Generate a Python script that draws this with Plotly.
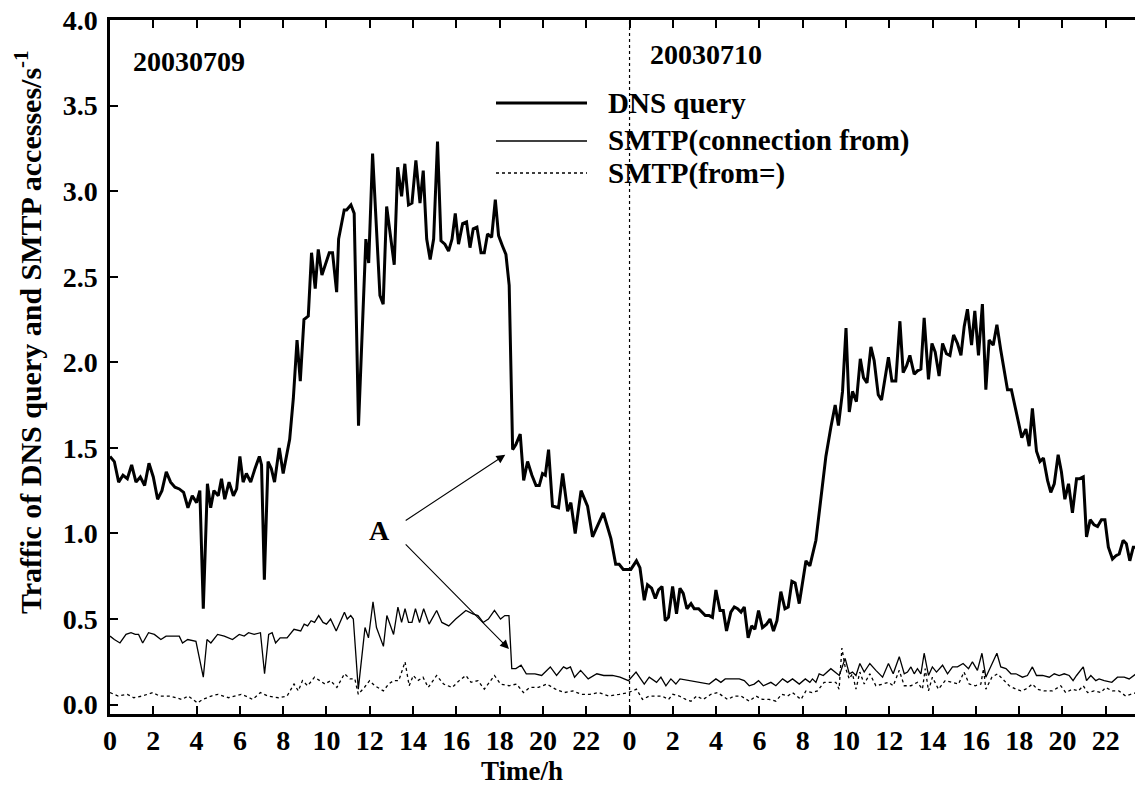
import plotly.graph_objects as go

# ---------------- data (hours since 0:00 on 2003-07-09) ----------------
dns_t = [0.0, 0.2, 0.4, 0.6, 0.8, 1.0, 1.2, 1.4, 1.6, 1.8, 2.0, 2.2, 2.4, 2.6, 2.8, 3.0, 3.2, 3.4, 3.6, 3.8,
         4.0, 4.15, 4.31, 4.5, 4.65, 4.8, 5.0, 5.15, 5.3, 5.5, 5.7, 5.85, 6.0, 6.15, 6.3, 6.5, 6.7, 6.9, 7.0,
         7.13, 7.3, 7.45, 7.6, 7.82, 8.0, 8.13, 8.3, 8.47, 8.64, 8.79, 8.96, 9.16, 9.31, 9.48, 9.62, 9.79,
         9.96, 10.13, 10.28, 10.47, 10.56, 10.82, 10.93, 11.13, 11.28, 11.48, 11.82, 11.95, 12.13, 12.47,
         12.62, 12.78, 13.13, 13.29, 13.47, 13.62, 13.79, 13.95, 14.13, 14.32, 14.47, 14.63, 14.79, 14.95,
         15.13, 15.29, 15.47, 15.64, 15.80, 15.95, 16.10, 16.29, 16.47, 16.63, 16.78, 16.95, 17.14, 17.29,
         17.44, 17.63, 17.80, 17.95, 18.13, 18.29, 18.44, 18.60, 18.75, 18.95, 19.11, 19.29, 19.49, 19.68,
         19.83, 19.98, 20.11, 20.26, 20.44, 20.72, 20.91, 21.14, 21.29, 21.49, 21.76, 22.06, 22.29, 22.52,
         22.79, 23.14, 23.36, 23.52, 23.71, 24.06, 24.32, 24.48, 24.68, 24.83, 25.02, 25.19, 25.34, 25.50,
         25.65, 25.80, 25.99, 26.17, 26.33, 26.48, 26.65, 26.84, 26.99, 27.19, 27.34, 27.50, 27.68, 27.83,
         27.99, 28.18, 28.33, 28.48, 28.68, 28.84, 28.99, 29.15, 29.30, 29.48, 29.64, 29.79, 29.96, 30.14,
         30.33, 30.49, 30.65, 30.81, 30.99, 31.18, 31.33, 31.50, 31.65, 31.84, 32.15, 32.33, 32.61, 32.78,
         32.92, 33.07, 33.30, 33.50, 33.65, 33.84, 34.0, 34.15, 34.30, 34.48, 34.66, 34.81, 34.97, 35.15,
         35.30, 35.49, 35.64, 35.80, 35.96, 36.12, 36.30, 36.49, 36.64, 36.80, 36.95, 37.15, 37.30, 37.46,
         37.61, 37.81, 37.97, 38.12, 38.30, 38.46, 38.64, 38.80, 38.97, 39.15, 39.31, 39.46, 39.61, 39.80,
         39.95, 40.12, 40.30, 40.46, 40.61, 40.80, 40.97, 41.15, 41.31, 41.46, 41.64, 41.82, 41.97, 42.12,
         42.31, 42.46, 42.61, 42.80, 42.96, 43.12, 43.31, 43.46, 43.62, 43.80, 43.95, 44.11, 44.28, 44.46,
         44.65, 44.80, 44.96, 45.11, 45.28, 45.46, 45.62, 45.80, 45.96, 46.12, 46.31, 46.47, 46.62, 46.80,
         46.95, 47.11, 47.27, 47.4]
dns_v = [1.45, 1.42, 1.30, 1.34, 1.32, 1.40, 1.30, 1.33, 1.28, 1.41, 1.33, 1.20, 1.25, 1.36, 1.30, 1.27, 1.26, 1.24, 1.15, 1.22,
         1.18, 1.25, 0.56, 1.29, 1.15, 1.25, 1.22, 1.32, 1.20, 1.30, 1.22, 1.26, 1.45, 1.30, 1.35, 1.30, 1.38, 1.45, 1.40,
         0.73, 1.42, 1.38, 1.30, 1.50, 1.35, 1.43, 1.55, 1.79, 2.13, 1.89, 2.25, 2.27, 2.64, 2.43, 2.66, 2.51,
         2.58, 2.64, 2.64, 2.41, 2.72, 2.89, 2.89, 2.92, 2.87, 1.63, 2.72, 2.58, 3.22, 2.39,
         2.34, 2.91, 2.57, 3.14, 2.97, 3.16, 2.92, 2.93, 3.18, 2.93, 3.12, 2.72, 2.60, 2.72,
         3.29, 2.71, 2.69, 2.65, 2.72, 2.87, 2.69, 2.81, 2.82, 2.67, 2.78, 2.79, 2.64, 2.64,
         2.75, 2.73, 2.95, 2.74, 2.68, 2.63, 2.45, 1.49, 1.52, 1.58, 1.31, 1.42, 1.34, 1.28,
         1.28, 1.35, 1.34, 1.49, 1.16, 1.15, 1.35, 1.13, 1.18, 1.00, 1.25, 1.16, 0.98, 1.04,
         1.12, 0.97, 0.82, 0.82, 0.79, 0.79, 0.84, 0.80, 0.61, 0.70, 0.68, 0.62, 0.67, 0.69,
         0.49, 0.51, 0.69, 0.53, 0.68, 0.65, 0.56, 0.59, 0.56, 0.56, 0.54, 0.52, 0.52, 0.51,
         0.67, 0.55, 0.55, 0.43, 0.54, 0.57, 0.56, 0.54, 0.57, 0.39, 0.46, 0.44, 0.55, 0.45,
         0.47, 0.50, 0.43, 0.49, 0.66, 0.56, 0.57, 0.72, 0.71, 0.59, 0.84, 0.81, 0.96, 1.15,
         1.32, 1.45, 1.62, 1.75, 1.63, 1.83, 2.20, 1.71, 1.83, 1.77, 2.02, 1.91, 1.88, 2.09,
         2.01, 1.81, 1.78, 1.92, 2.03, 1.89, 1.89, 2.24, 1.94, 1.98, 2.04, 1.93, 1.95, 1.96,
         2.26, 1.90, 2.11, 2.06, 1.92, 2.11, 2.05, 2.04, 2.16, 2.11, 2.04, 2.21, 2.31, 2.10,
         2.30, 2.04, 2.34, 1.84, 2.13, 2.10, 2.22, 2.07, 1.94, 1.84, 1.84, 1.74, 1.66, 1.56,
         1.61, 1.51, 1.73, 1.48, 1.42, 1.44, 1.31, 1.24, 1.29, 1.46, 1.36, 1.20, 1.29, 1.12,
         1.32, 1.32, 1.33, 0.98, 1.08, 1.05, 1.04, 1.08, 1.08, 0.92, 0.85, 0.87, 0.88, 0.96,
         0.94, 0.84, 0.92, 0.92]

conn_t = [0.0, 0.2, 0.46, 0.74, 0.97, 1.17, 1.32, 1.51, 1.78, 2.05, 2.35, 2.59, 2.97, 3.2, 3.35, 3.59, 3.97,
          4.31, 4.48, 4.66, 4.97, 5.28, 5.66, 5.97, 6.2, 6.4, 6.66, 6.95, 7.14, 7.33, 7.49, 7.65, 7.86, 8.18,
          8.5, 8.81, 8.97, 9.13, 9.29, 9.45, 9.64, 9.84, 10.0, 10.19, 10.45, 10.64, 10.83, 10.96, 11.12, 11.24,
          11.47, 11.78, 11.94, 12.15, 12.31, 12.63, 12.79, 13.10, 13.30, 13.47, 13.63, 13.79, 13.95, 14.11,
          14.30, 14.49, 14.74, 15.09, 15.33, 15.65, 15.97, 16.44, 16.76, 17.0, 17.24, 17.48, 17.76, 18.04,
          18.24, 18.43, 18.56, 18.75, 18.99, 19.23, 19.63, 19.94, 20.18, 20.34, 20.63, 20.95, 21.10, 21.27,
          21.46, 21.74, 22.09, 22.49, 22.81, 23.21, 23.56, 23.95, 24.30, 24.68, 24.91, 25.25, 25.45, 25.68,
          25.91, 26.14, 26.33, 26.76, 27.22, 27.68, 27.99, 28.22, 28.42, 28.84, 29.07, 29.30, 29.53, 29.76,
          29.96, 30.18, 30.53, 30.76, 31.07, 31.30, 31.53, 31.84, 32.12, 32.33, 32.45, 32.61, 32.76, 32.95,
          33.30, 33.69, 33.96, 34.15, 34.30, 34.46, 34.64, 34.84, 35.10, 35.38, 35.69, 35.96, 36.18, 36.46,
          36.69, 36.84, 37.00, 37.15, 37.30, 37.46, 37.61, 37.81, 37.99, 38.18, 38.46, 38.69, 38.92, 39.15,
          39.41, 39.66, 39.84, 40.07, 40.28, 40.46, 40.74, 40.97, 41.15, 41.39, 41.62, 41.85, 42.15, 42.38,
          42.61, 42.80, 43.08, 43.39, 43.62, 43.85, 44.08, 44.31, 44.49, 44.65, 44.96, 45.11, 45.31, 45.54,
          45.69, 45.93, 46.28, 46.54, 46.85, 47.08, 47.4]
conn_v = [0.40, 0.38, 0.36, 0.41, 0.42, 0.41, 0.41, 0.36, 0.42, 0.41, 0.38, 0.40, 0.40, 0.40, 0.36, 0.38, 0.37,
          0.16, 0.38, 0.36, 0.41, 0.40, 0.38, 0.41, 0.40, 0.42, 0.41, 0.42, 0.18, 0.41, 0.42, 0.36, 0.39, 0.39,
          0.44, 0.43, 0.47, 0.46, 0.49, 0.48, 0.52, 0.48, 0.47, 0.50, 0.43, 0.49, 0.54, 0.50, 0.52, 0.50,
          0.09, 0.45, 0.39, 0.60, 0.45, 0.34, 0.52, 0.41, 0.57, 0.48, 0.56, 0.48, 0.48, 0.56,
          0.48, 0.56, 0.47, 0.55, 0.48, 0.46, 0.50, 0.55, 0.53, 0.52, 0.48, 0.50, 0.55, 0.50,
          0.52, 0.52, 0.21, 0.21, 0.23, 0.18, 0.18, 0.17, 0.20, 0.22, 0.17, 0.22, 0.21, 0.22,
          0.16, 0.20, 0.15, 0.18, 0.17, 0.17, 0.16, 0.14, 0.19, 0.12, 0.16, 0.13, 0.16, 0.11,
          0.15, 0.12, 0.15, 0.14, 0.13, 0.12, 0.15, 0.13, 0.15, 0.15, 0.15, 0.14, 0.11, 0.12,
          0.14, 0.11, 0.13, 0.11, 0.15, 0.13, 0.15, 0.12, 0.15, 0.13, 0.15, 0.13, 0.18, 0.17,
          0.21, 0.17, 0.27, 0.18, 0.19, 0.17, 0.24, 0.19, 0.24, 0.20, 0.16, 0.24, 0.18, 0.28,
          0.18, 0.19, 0.22, 0.18, 0.21, 0.18, 0.30, 0.17, 0.22, 0.19, 0.23, 0.18, 0.22, 0.22,
          0.24, 0.21, 0.25, 0.20, 0.30, 0.16, 0.24, 0.30, 0.22, 0.21, 0.18, 0.18, 0.16, 0.17,
          0.22, 0.17, 0.17, 0.16, 0.18, 0.17, 0.18, 0.17, 0.14, 0.17, 0.22, 0.14, 0.17, 0.14,
          0.15, 0.14, 0.13, 0.16, 0.16, 0.15, 0.18]

from_t = [0.0, 0.38, 0.8, 1.1, 1.49, 1.97, 2.29, 2.77, 3.32, 3.61, 4.04, 4.28, 4.68, 4.99, 5.47, 5.71, 6.06,
          6.27, 6.59, 6.95, 7.30, 7.78, 8.18, 8.50, 8.70, 8.89, 9.13, 9.45, 9.69, 9.93, 10.19, 10.48, 10.83,
          11.09, 11.31, 11.47, 11.75, 11.99, 12.23, 12.63, 12.87, 13.10, 13.34, 13.63, 13.82, 14.01, 14.22,
          14.46, 14.70, 15.09, 15.41, 15.81, 16.13, 16.44, 16.68, 17.0, 17.29, 17.76, 18.04, 18.43, 18.78,
          19.10, 19.39, 19.79, 20.18, 20.58, 20.98, 21.38, 21.78, 22.17, 22.57, 23.05, 23.53, 23.95, 24.32,
          24.6, 24.91, 25.2, 25.5, 25.8, 26.0, 26.3, 26.6, 26.84, 27.1, 27.4, 27.76, 28.07, 28.3, 28.53,
          28.84, 29.15, 29.53, 29.84, 30.14, 30.45, 30.76, 31.03, 31.3, 31.53, 31.92, 32.15, 32.43, 32.68,
          32.99, 33.22, 33.53, 33.68, 33.81, 33.96, 34.15, 34.30, 34.46, 34.64, 34.84, 35.10, 35.38, 35.69,
          35.96, 36.18, 36.46, 36.69, 37.0, 37.30, 37.53, 37.66, 37.81, 37.99, 38.27, 38.58, 38.92, 39.2,
          39.45, 39.69, 39.97, 40.23, 40.35, 40.46, 40.74, 41.0, 41.23, 41.54, 41.85, 42.08, 42.3, 42.61,
          42.84, 43.15, 43.54, 43.92, 44.15, 44.46, 44.73, 44.96, 45.16, 45.46, 45.77, 46.0, 46.3, 46.6,
          46.92, 47.4]
from_v = [0.07, 0.05, 0.06, 0.04, 0.05, 0.07, 0.05, 0.05, 0.03, 0.05, 0.01, 0.03, 0.05, 0.06, 0.04, 0.05, 0.06,
          0.05, 0.03, 0.07, 0.05, 0.04, 0.05, 0.12, 0.08, 0.14, 0.11, 0.16, 0.14, 0.12, 0.14, 0.10, 0.18,
          0.15, 0.15, 0.06, 0.10, 0.14, 0.11, 0.08, 0.12, 0.14, 0.14, 0.25, 0.11, 0.17, 0.14,
          0.16, 0.10, 0.17, 0.12, 0.10, 0.14, 0.17, 0.13, 0.14, 0.09, 0.17, 0.12, 0.11, 0.12,
          0.07, 0.10, 0.10, 0.12, 0.09, 0.07, 0.08, 0.06, 0.06, 0.07, 0.05, 0.06, 0.07, 0.09,
          0.03, 0.05, 0.05, 0.05, 0.03, 0.06, 0.05, 0.03, 0.02, 0.05, 0.03, 0.06, 0.07, 0.05, 0.03,
          0.05, 0.05, 0.02, 0.05, 0.03, 0.03, 0.02, 0.06, 0.05, 0.07, 0.03, 0.08, 0.07, 0.08,
          0.13, 0.13, 0.13, 0.09, 0.33, 0.22, 0.15, 0.18, 0.09, 0.19, 0.12, 0.18, 0.11, 0.12,
          0.13, 0.11, 0.20, 0.11, 0.11, 0.13, 0.09, 0.21, 0.08, 0.16, 0.09, 0.14, 0.13, 0.12,
          0.19, 0.12, 0.11, 0.12, 0.21, 0.09, 0.16, 0.18, 0.15, 0.11, 0.09, 0.08, 0.09, 0.12,
          0.09, 0.08, 0.08, 0.11, 0.07, 0.09, 0.08, 0.11, 0.07, 0.08, 0.07, 0.10, 0.08, 0.08,
          0.05, 0.07]

x_tickvals = list(range(0, 48, 2))
x_ticktext = [str(h % 24) for h in x_tickvals]
y_tickvals = [0.0, 0.5, 1.0, 1.5, 2.0, 2.5, 3.0, 3.5, 4.0]
day_boundary = 24
series_names = ["DNS query", "SMTP(connection from)", "SMTP(from=)"]
date_labels = ["20030709", "20030710"]

# ---------------- figure ----------------
FONT = "Liberation Serif, Times New Roman, serif"
W, H = 1135, 787
ML, MR, MT, MB = 110, 0, 20, 73
PW, PH = W - ML - MR, H - MT - MB

def px_x(p):
    return (p - ML) / PW

def px_y(p):
    return (H - MB - p) / PH

fig = go.Figure()
fig.add_trace(go.Scatter(x=dns_t, y=dns_v, mode="lines", name=series_names[0],
                         line=dict(color="black", width=3)))
fig.add_trace(go.Scatter(x=conn_t, y=conn_v, mode="lines", name=series_names[1],
                         line=dict(color="black", width=1.3)))
fig.add_trace(go.Scatter(x=from_t, y=from_v, mode="lines", name=series_names[2],
                         line=dict(color="black", width=1.3, dash="dot")))

shapes = [
    dict(type="line", xref="x", yref="paper", x0=day_boundary, x1=day_boundary, y0=0, y1=1,
         line=dict(color="black", width=1.2, dash="dot")),
]
annotations = []

# legend drawn manually
leg_rows = [(103, dict(color="black", width=3)),
            (141, dict(color="black", width=1.3)),
            (173, dict(color="black", width=1.3, dash="dot"))]
for (yp, ln), name in zip(leg_rows, series_names):
    shapes.append(dict(type="line", xref="paper", yref="paper",
                       x0=px_x(496), x1=px_x(587), y0=px_y(yp), y1=px_y(yp), line=ln))
    annotations.append(dict(xref="paper", yref="paper", x=px_x(606), y=px_y(yp),
                            xanchor="left", yanchor="middle", showarrow=False,
                            text="<b>%s</b>" % name,
                            font=dict(family=FONT, size=29, color="black")))

# date labels
annotations.append(dict(x=3.66, y=3.76, xref="x", yref="y", showarrow=False, text="<b>%s</b>" % date_labels[0],
                        font=dict(family=FONT, size=28, color="black")))
annotations.append(dict(x=27.54, y=3.80, xref="x", yref="y", showarrow=False, text="<b>%s</b>" % date_labels[1],
                        font=dict(family=FONT, size=28, color="black")))

# "A" and arrows
annotations.append(dict(x=12.44, y=1.02, xref="x", yref="y", showarrow=False, text="<b>A</b>",
                        font=dict(family=FONT, size=28, color="black")))
for tip, start in [((18.26, 1.46), (13.59, 1.07)), ((18.43, 0.325), (13.59, 0.945))]:
    annotations.append(dict(x=tip[0], y=tip[1], ax=start[0], ay=start[1], xref="x", yref="y",
                            axref="x", ayref="y", showarrow=True, arrowhead=2, arrowsize=1.6,
                            arrowwidth=1.1, arrowcolor="black", text=""))

# axis titles
annotations.append(dict(xref="paper", yref="paper", x=px_x(522), y=px_y(787), showarrow=False,
                        text="<b>Time/h</b>", xanchor="center", yanchor="bottom", borderpad=0,
                        font=dict(family=FONT, size=27, color="black")))
annotations.append(dict(xref="paper", yref="paper", x=px_x(28), y=px_y(332), showarrow=False,
                        text="<b>Traffic of DNS query and SMTP accesses/s<sup>-1</sup></b>",
                        textangle=-90, xanchor="center", yanchor="middle",
                        font=dict(family=FONT, size=30, color="black")))

fig.update_layout(
    width=W, height=H,
    margin=dict(l=ML, r=MR, t=MT, b=MB, pad=0),
    paper_bgcolor="white", plot_bgcolor="white",
    showlegend=False,
    shapes=shapes, annotations=annotations,
    xaxis=dict(range=[0, 47.35], tickvals=x_tickvals, ticktext=x_ticktext,
               showgrid=False, zeroline=False, showline=True, linecolor="black", linewidth=2.5,
               mirror="ticks", ticks="inside", ticklen=8, tickwidth=2, tickcolor="black",
               tickfont=dict(family=FONT, size=28, color="black", weight="bold")),
    yaxis=dict(range=[-0.055, 4.0], tickvals=y_tickvals, tickformat=".1f",
               showgrid=False, zeroline=False, showline=True, linecolor="black", linewidth=2.5,
               ticks="inside", ticklen=8, tickwidth=2, tickcolor="black", ticklabelstandoff=4,
               tickfont=dict(family=FONT, size=28, color="black", weight="bold")),
)

fig.write_html("out.html")
